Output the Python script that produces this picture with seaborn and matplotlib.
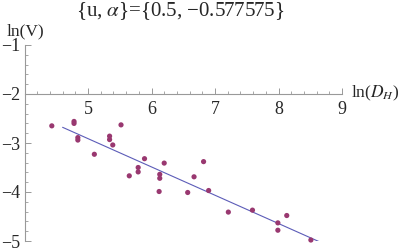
import matplotlib
matplotlib.use("Agg")
import matplotlib.pyplot as plt
import seaborn as sns
import numpy as np
import pandas as pd
from matplotlib.ticker import MultipleLocator

# data
ln_dh = [4.43, 4.78, 4.78, 4.84, 4.84, 5.10, 5.34, 5.34, 5.39, 5.52,
         5.65, 5.79, 5.79, 5.89, 6.13, 6.13, 6.12, 6.20, 6.57, 6.67,
         6.82, 6.90, 7.21, 7.59, 7.99, 7.99, 8.13, 8.51]
ln_v = [-2.65, -2.56, -2.60, -2.89, -2.94, -3.23, -2.86, -2.93, -3.04, -2.63,
        -3.67, -3.50, -3.59, -3.32, -3.64, -3.72, -3.99, -3.41, -4.01, -3.69,
        -3.38, -3.97, -4.41, -4.37, -4.63, -4.78, -4.48, -4.98]
u = 0.5
alpha = -0.577575
intercept = -0.023
fit_range = [4.6, 8.65]

x_ticks = [5, 6, 7, 8, 9]
y_ticks = [-1, -2, -3, -4, -5]

sns.set_style("white")
plt.rcParams['font.family'] = ['Liberation Serif', 'DejaVu Serif']
plt.rcParams['mathtext.fontset'] = 'stix'

df = pd.DataFrame({"x": ln_dh, "y": ln_v})
fit_x = np.array(fit_range)
fit = pd.DataFrame({"x": fit_x, "y": intercept + alpha * fit_x})

fig = plt.figure(figsize=(4, 2.5), dpi=100)
ax = fig.add_axes([24.5 / 400, 9 / 250, 317.5 / 400, 196 / 250])

sns.lineplot(data=fit, x="x", y="y", ax=ax, color="#5c5cb8", lw=0.8)
sns.scatterplot(data=df, x="x", y="y", ax=ax, color="#993870", s=14,
                edgecolor="none", clip_on=False, zorder=3)

ax.set_xlim(4, 9)
ax.set_ylim(-5, -1)
ax.set_xlabel("")
ax.set_ylabel("")

for s in ["top", "right"]:
    ax.spines[s].set_visible(False)
ax.spines["left"].set_position(("data", 4))
ax.spines["bottom"].set_position(("data", -2))
for s in ["left", "bottom"]:
    ax.spines[s].set_color("#999999")
    ax.spines[s].set_linewidth(0.8)

ax.set_xticks(x_ticks)
ax.set_yticks(y_ticks)
ax.xaxis.set_minor_locator(MultipleLocator(0.2))
ax.yaxis.set_minor_locator(MultipleLocator(0.2))
ax.tick_params(axis="both", which="both", bottom=True, left=True,
               top=False, right=False)
ax.tick_params(axis="both", which="major", direction="in", length=4,
               width=0.7, color="#999999", labelsize=13)
ax.tick_params(axis="both", which="minor", direction="in", length=2.2,
               width=0.6, color="#999999")
ax.tick_params(axis="x", which="major", pad=5)
ax.tick_params(axis="y", which="major", pad=3)
ax.set_xticklabels([str(t) for t in x_ticks])
ax.set_yticklabels(["\u2212" + str(abs(t)) for t in y_ticks])
ax.patch.set_alpha(0)

fig.text(180 / 400, 1 - 11 / 250,
         "{u, $\\mathit{\\alpha}$}={" + str(u) + ", \u2212" + str(abs(alpha)) + "}",
         ha="center", va="center", fontsize=15)
fig.text(25 / 400, 1 - 31 / 250, "ln(V)", ha="center", va="center", fontsize=12.5)
fig.text(351 / 400, 1 - 93 / 250, "ln($D_H$)", ha="left", va="center", fontsize=12.5)

fig.savefig("out.png", dpi=100)
